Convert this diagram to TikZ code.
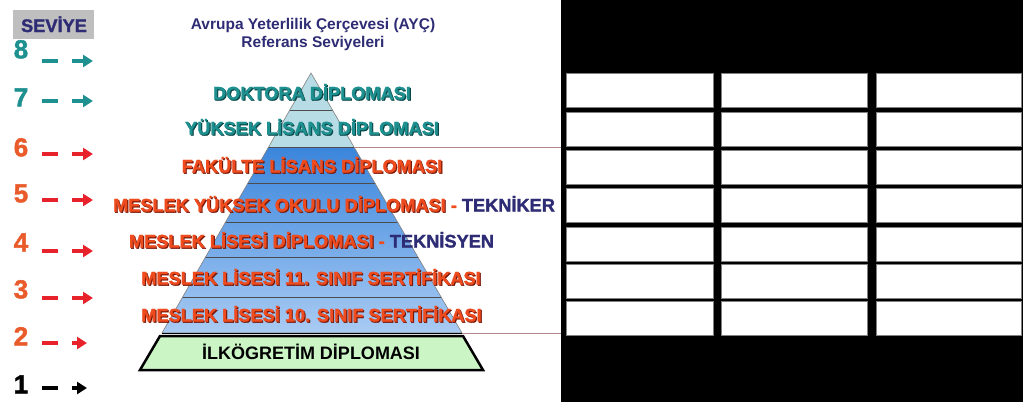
\documentclass[tikz,border=0pt]{standalone}
\usepackage{fontspec}
\setmainfont{Liberation Sans}
\newfontfamily\heavyfont{Liberation Sans}[BoldFeatures={FakeBold=1.6}]
\usetikzlibrary{arrows.meta}
\definecolor{tealtxt}{HTML}{1E9090}
\definecolor{tealshd}{HTML}{0A4848}
\definecolor{redtxt}{HTML}{EE4B1E}
\definecolor{redshd}{HTML}{7A1808}
\definecolor{navy}{HTML}{2E2C74}
\definecolor{numred}{HTML}{EA5B2B}
\definecolor{arrred}{HTML}{E8222A}
\definecolor{toptier}{HTML}{B8DCE5}
\definecolor{blueA}{HTML}{3A85DC}
\definecolor{blueB}{HTML}{A9CBF3}
\definecolor{greenbase}{HTML}{CCF5C6}
\definecolor{rosy}{HTML}{B08A8A}
\definecolor{boxgray}{HTML}{BFBFBF}
\newcommand\shd[3]{\makebox[0pt][l]{\kern1.1pt\raisebox{-1.1pt}{\textcolor{#2}{#3}}}\textcolor{#1}{#3}}
\begin{document}
\begin{tikzpicture}[x=1pt,y=-1pt,
  lab/.style={font=\heavyfont\bfseries\fontsize{18.2}{20}\selectfont, inner sep=0pt, anchor=base},
  plainlab/.style={font=\bfseries\fontsize{18}{20}\selectfont, inner sep=0pt, anchor=base},
  ttl/.style={font=\bfseries\fontsize{15.5}{18}\selectfont, text=navy, inner sep=0pt, anchor=base},
  num/.style={font=\heavyfont\bfseries\fontsize{26}{28}\selectfont, inner sep=0pt, anchor=base},
  cell/.style={draw=gray, fill=white, line width=0.8pt, minimum height=34pt, inner sep=0pt, anchor=north west},
  tierline/.style={draw=black!70, line width=0.6pt},
  lvarrow/.style={line width=3.5pt, -{Triangle[length=10pt,width=12pt]}},
  lvdash/.style={line width=3.5pt},
  guide/.style={draw=rosy, line width=0.7pt}]
\useasboundingbox (0,0) rectangle (1023,402);
\fill[white] (0,0) rectangle (561,402);
\fill[black] (561,0) rectangle (1023,402);
% table cells
\foreach \r/\yy in {1/73,2/112,3/150,4/188,5/227,6/264,7/301}{
  \node[cell, minimum width=147pt] (c\r-1) at (566,\yy) {};
  \node[cell, minimum width=146pt] (c\r-2) at (721,\yy) {};
  \node[cell, minimum width=145pt] (c\r-3) at (876,\yy) {};
}
% pyramid
\coordinate (apex) at (311,73);
\coordinate (bl) at (162,333);
\coordinate (br) at (462,333);
\begin{scope}
  \clip (apex)--(bl)--(br)--cycle;
  \fill[toptier] (150,60) rectangle (470,147);
  \shade[top color=blueA, bottom color=blueB] (150,147) rectangle (470,333);
  \foreach \yy in {110,147,183,222,257,297} \draw[tierline] (150,\yy) -- (470,\yy);
\end{scope}
\draw[gray, line width=0.6pt] (apex)--(bl)--(br)--cycle;
\draw[black, line width=1pt] (bl)--(br);
% guide lines
\coordinate (g1a) at (354,147); \coordinate (g1b) at (561,147);
\coordinate (g2a) at (462,333); \coordinate (g2b) at (561,333);
\draw[guide] (g1a) -- (g1b);
\draw[guide] (g2a) -- (g2b);
% base trapezoid
\draw[fill=greenbase, line width=2.5pt, line join=miter] (160,336)--(463,336)--(483,370)--(140,370)--cycle;
% labels
\node[lab] (l8) at (312,99.5) {\shd{tealtxt}{tealshd}{DOKTORA DİPLOMASI}};
\node[lab] (l7) at (312,134.5) {\shd{tealtxt}{tealshd}{YÜKSEK LİSANS DİPLOMASI}};
\node[lab] (l6) at (312,172.5) {\shd{redtxt}{redshd}{FAKÜLTE LİSANS DİPLOMASI}};
\node[lab] (l5) at (334,211.5) {\shd{redtxt}{redshd}{MESLEK YÜKSEK OKULU DİPLOMASI} \textcolor{redtxt}{-} \textcolor{navy}{TEKNİKER}};
\node[lab] (l4) at (311.5,247.5) {\shd{redtxt}{redshd}{MESLEK LİSESİ DİPLOMASI} \textcolor{redtxt}{-} \textcolor{navy}{TEKNİSYEN}};
\node[lab] (l3) at (311,284.5) {\shd{redtxt}{redshd}{MESLEK LİSESİ 11. SINIF SERTİFİKASI}};
\node[lab] (l2) at (311.5,321.5) {\shd{redtxt}{redshd}{MESLEK LİSESİ 10. SINIF SERTİFİKASI}};
\node[plainlab, text=black] (l1) at (311,359.5) {İLKÖGRETİM DİPLOMASI};
% title
\node[ttl] (t1) at (313,29.5) {Avrupa Yeterlilik Çerçevesi (AYÇ)};
\node[ttl] (t2) at (313,47.5) {Referans Seviyeleri};
% seviye header
\node[fill=boxgray, minimum width=81pt, minimum height=29pt, inner sep=0pt] (hdr) at (53.5,24.5) {};
\node[lab, text=navy] (hdrt) at (54,32) {SEVİYE};
% level numbers and arrows
\foreach \n/\yb/\ya/\col/\tip in {8/58.3/61/tealtxt/93,7/106.3/101/tealtxt/93,6/156.3/154/numred/93,5/202.3/200/numred/93,4/251.3/251/numred/93,3/298.3/298/numred/93,2/345.3/343/numred/87,1/393.3/388/black/87}{
  \node[num, text=\col] (n\n) at (21,\yb) {\n};
  \coordinate (d\n a) at (42,\ya); \coordinate (d\n b) at (58,\ya);
  \coordinate (a\n a) at (72,\ya); \coordinate (a\n b) at (\tip,\ya);
}
\foreach \n/\col in {8/tealtxt,7/tealtxt,6/arrred,5/arrred,4/arrred,3/arrred,2/arrred,1/black}{
  \draw[lvdash, draw=\col] (d\n a) -- (d\n b);
  \draw[lvarrow, draw=\col, fill=\col] (a\n a) -- (a\n b);
}
\end{tikzpicture}
\end{document}
